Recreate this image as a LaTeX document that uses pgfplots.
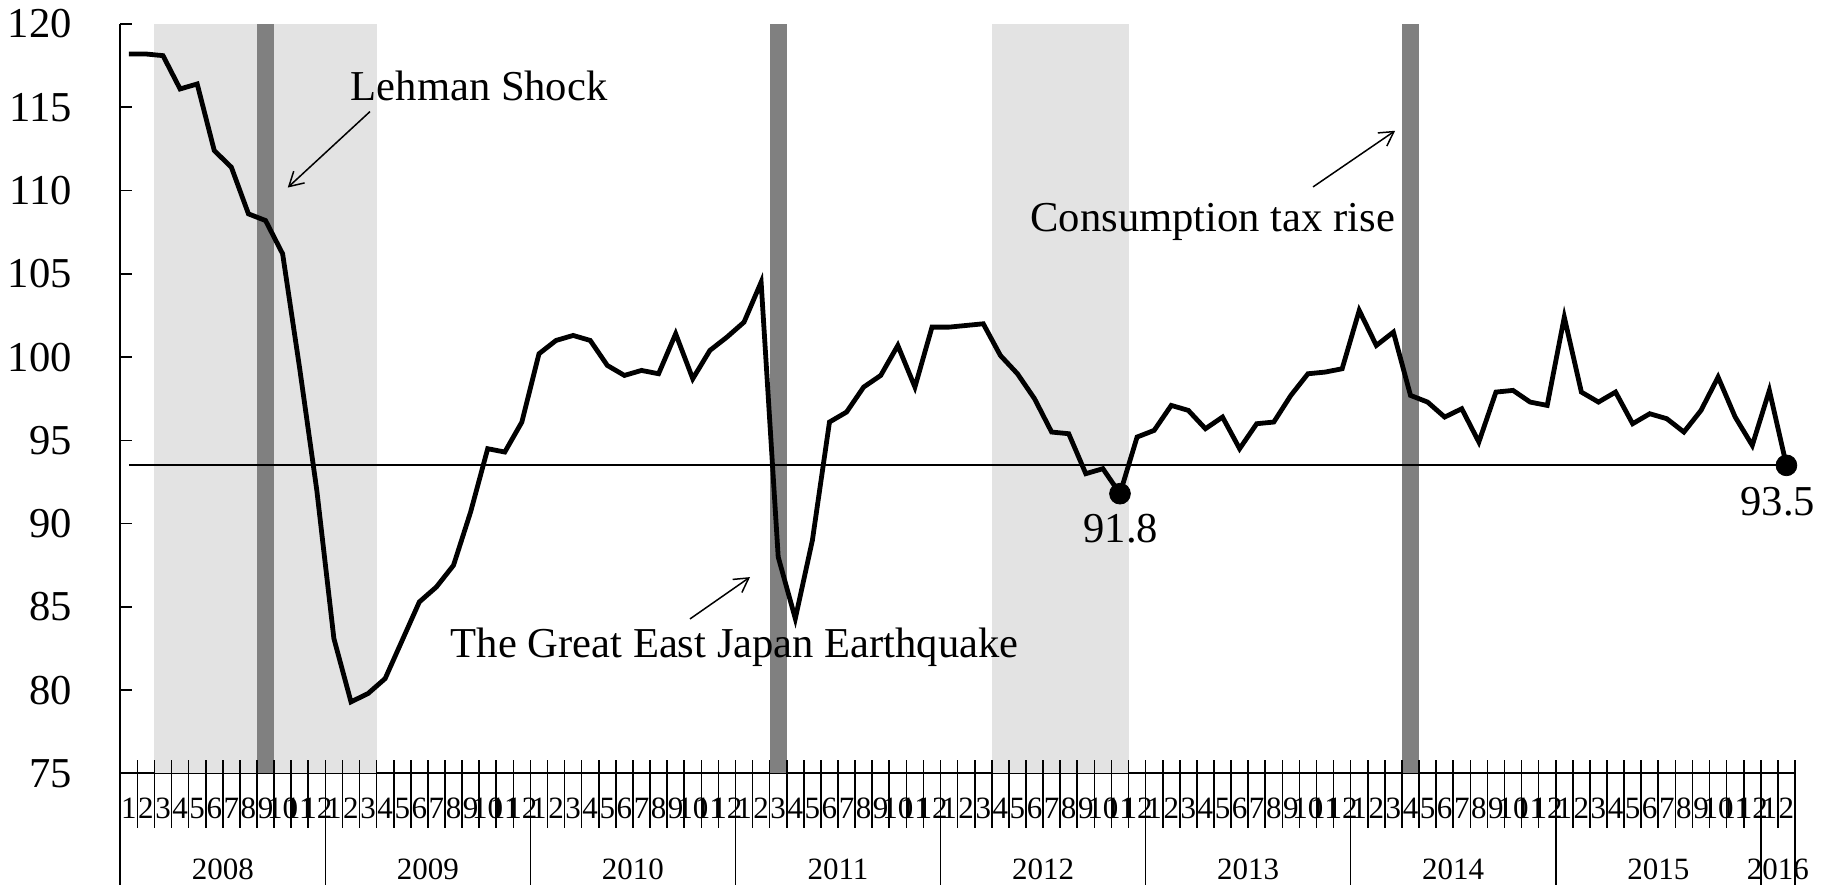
\documentclass[border=0pt]{standalone}
\usepackage{pgfplots}
\pgfplotsset{compat=1.18}
\usepackage{pgfplotstable}
\usepackage{fontspec}
\setmainfont{Liberation Serif}
\usetikzlibrary{arrows.meta}
\definecolor{lightshade}{RGB}{227,227,227}
\definecolor{darkshade}{RGB}{128,128,128}

\pgfplotstableread{
i v
0 118.2
1 118.2
2 118.1
3 116.1
4 116.4
5 112.4
6 111.4
7 108.6
8 108.2
9 106.2
10 99.3
11 92.0
12 83.1
13 79.3
14 79.8
15 80.7
16 83.0
17 85.3
18 86.2
19 87.5
20 90.7
21 94.5
22 94.3
23 96.1
24 100.2
25 101.0
26 101.3
27 101.0
28 99.5
29 98.9
30 99.2
31 99.0
32 101.4
33 98.7
34 100.4
35 101.2
36 102.1
37 104.5
38 88.0
39 84.3
40 89.0
41 96.1
42 96.7
43 98.2
44 98.9
45 100.7
46 98.2
47 101.8
48 101.8
49 101.9
50 102.0
51 100.1
52 99.0
53 97.5
54 95.5
55 95.4
56 93.0
57 93.3
58 91.8
59 95.2
60 95.6
61 97.1
62 96.8
63 95.7
64 96.4
65 94.5
66 96.0
67 96.1
68 97.7
69 99.0
70 99.1
71 99.3
72 102.8
73 100.7
74 101.5
75 97.7
76 97.3
77 96.4
78 96.9
79 94.9
80 97.9
81 98.0
82 97.3
83 97.1
84 102.4
85 97.9
86 97.3
87 97.9
88 96.0
89 96.6
90 96.3
91 95.5
92 96.8
93 98.8
94 96.4
95 94.7
96 98.0
97 93.5
}\datatable

\newcommand{\bigfont}{\fontsize{21.3}{24}\selectfont}
\newcommand{\smallfont}{\fontsize{15.5}{17}\selectfont}

\begin{document}
\begin{tikzpicture}
\path[use as bounding box] (-60.15pt,-55.75pt) rectangle (854.9pt,386.75pt);
\begin{axis}[
  scale only axis,
  width=837.4pt, height=374.75pt,
  xmin=-0.5, xmax=97.5, ymin=75, ymax=120,
  axis x line*=bottom, axis y line*=left,
  axis line style={-, line width=1pt, black},
  clip=false,
  xtick={0,...,97},
  xticklabels={1,2,3,4,5,6,7,8,9,10,11,12,1,2,3,4,5,6,7,8,9,10,11,12,1,2,3,4,5,6,7,8,9,10,11,12,1,2,3,4,5,6,7,8,9,10,11,12,1,2,3,4,5,6,7,8,9,10,11,12,1,2,3,4,5,6,7,8,9,10,11,12,1,2,3,4,5,6,7,8,9,10,11,12,1,2,3,4,5,6,7,8,9,10,11,12,1,2},
  xtick style={draw=none},
  xticklabel style={font=\smallfont, anchor=base, inner sep=0pt, yshift=-22.75pt},
  ytick={75,80,...,120},
  ytick align=inside,
  ytick style={black, line width=0.8pt},
  major tick length=6pt,
  yticklabel style={font=\bigfont, anchor=east, inner sep=0pt, xshift=-24pt},
  /pgf/number format/assume math mode=true,
]
% shaded periods
\fill[lightshade] (axis cs:1.5,75) rectangle (axis cs:14.5,120);
\fill[lightshade] (axis cs:50.5,75) rectangle (axis cs:58.5,120);
\fill[darkshade] (axis cs:7.5,75) rectangle (axis cs:8.5,120);
\fill[darkshade] (axis cs:37.5,75) rectangle (axis cs:38.5,120);
\fill[darkshade] (axis cs:74.5,75) rectangle (axis cs:75.5,120);
% month separators
\pgfplotsinvokeforeach{-0.5,0.5,1.5,2.5,3.5,4.5,5.5,6.5,7.5,8.5,9.5,10.5,11.5,12.5,13.5,14.5,15.5,16.5,17.5,18.5,19.5,20.5,21.5,22.5,23.5,24.5,25.5,26.5,27.5,28.5,29.5,30.5,31.5,32.5,33.5,34.5,35.5,36.5,37.5,38.5,39.5,40.5,41.5,42.5,43.5,44.5,45.5,46.5,47.5,48.5,49.5,50.5,51.5,52.5,53.5,54.5,55.5,56.5,57.5,58.5,59.5,60.5,61.5,62.5,63.5,64.5,65.5,66.5,67.5,68.5,69.5,70.5,71.5,72.5,73.5,74.5,75.5,76.5,77.5,78.5,79.5,80.5,81.5,82.5,83.5,84.5,85.5,86.5,87.5,88.5,89.5,90.5,91.5,92.5,93.5,94.5,95.5,96.5,97.5}{
  \draw[line width=0.8pt] ([yshift=6.5pt]axis cs:#1,75) -- ([yshift=-27.25pt]axis cs:#1,75);
}
% year separators
\pgfplotsinvokeforeach{-0.5,11.5,23.5,35.5,47.5,59.5,71.5,83.5,95.5,97.5}{
  \draw[line width=0.8pt] (axis cs:#1,75) -- ([yshift=-55.75pt]axis cs:#1,75);
}
% year labels
\node[font=\smallfont, anchor=base, inner sep=0pt, yshift=-53.25pt] at (axis cs:5.5,75) {2008};
\node[font=\smallfont, anchor=base, inner sep=0pt, yshift=-53.25pt] at (axis cs:17.5,75) {2009};
\node[font=\smallfont, anchor=base, inner sep=0pt, yshift=-53.25pt] at (axis cs:29.5,75) {2010};
\node[font=\smallfont, anchor=base, inner sep=0pt, yshift=-53.25pt] at (axis cs:41.5,75) {2011};
\node[font=\smallfont, anchor=base, inner sep=0pt, yshift=-53.25pt] at (axis cs:53.5,75) {2012};
\node[font=\smallfont, anchor=base, inner sep=0pt, yshift=-53.25pt] at (axis cs:65.5,75) {2013};
\node[font=\smallfont, anchor=base, inner sep=0pt, yshift=-53.25pt] at (axis cs:77.5,75) {2014};
\node[font=\smallfont, anchor=base, inner sep=0pt, yshift=-53.25pt] at (axis cs:89.5,75) {2015};
\node[font=\smallfont, anchor=base, inner sep=0pt, yshift=-53.25pt] at (axis cs:96.5,75) {2016};
% reference line at the latest value
\addplot[black, line width=1pt, mark=none] coordinates {(0,93.5) (97,93.5)};
% data
\addplot[black, line width=2.4pt, mark=none] table[x=i, y=v] {\datatable};
\addplot[only marks, mark=*, mark size=5.2pt, black] coordinates {(58,91.8) (97,93.5)};
\node[font=\bigfont, inner sep=0pt, yshift=-17.3pt] at (axis cs:58.05,91.8) {91.8};
\node[font=\bigfont, inner sep=0pt, yshift=-18pt] at (axis cs:96.5,93.5) {93.5};
% annotations
\node[font=\bigfont, anchor=base, inner sep=0pt] at (axis cs:20.5,115.43) {Lehman Shock};
\draw[line width=0.75pt, -{Straight Barb[length=7pt, width=8pt]}] (axis cs:14.11,114.74) -- (axis cs:9.3,110.18);
\node[font=\bigfont, anchor=base, inner sep=0pt] at (axis cs:35.46,81.98) {The Great East Japan Earthquake};
\draw[line width=0.75pt, -{Straight Barb[length=7pt, width=8pt]}] (axis cs:32.84,84.28) -- (axis cs:36.35,86.79);
\node[font=\bigfont, anchor=base, inner sep=0pt] at (axis cs:63.43,107.52) {Consumption tax rise};
\draw[line width=0.75pt, -{Straight Barb[length=7pt, width=8pt]}] (axis cs:69.3,110.22) -- (axis cs:74.1,113.59);
\end{axis}
\end{tikzpicture}
\end{document}
